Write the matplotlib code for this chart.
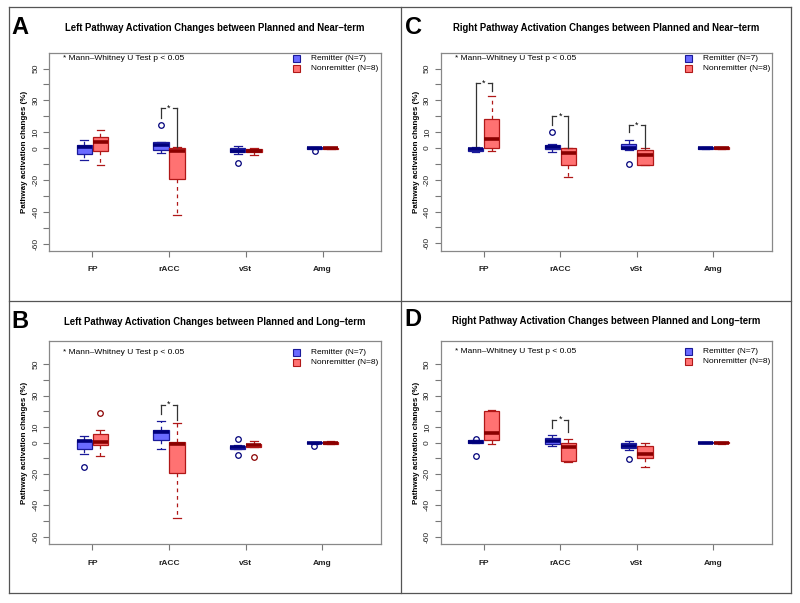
import matplotlib
matplotlib.use("Agg")
import matplotlib.pyplot as plt
from matplotlib.lines import Line2D
from matplotlib.patches import Rectangle

plt.rcParams['font.family'] = ['Liberation Sans', 'DejaVu Sans']

W, H = 800, 603

categories = ["FP", "rACC", "vSt", "Amg"]
legend_labels = ["Remitter (N=7)", "Nonremitter (N=8)"]
note_text = "* Mann\u2013Whitney U Test p < 0.05"
y_ticks = [-60, -50, -40, -30, -20, -10, 0, 10, 20, 30, 40, 50]
y_tick_labels = ["-60", "", "-40", "", "-20", "", "0", "10", "", "30", "", "50"]

titles = {
    "A": "Left Pathway Activation Changes between Planned and Near\u2013term",
    "B": "Left Pathway Activation Changes between Planned and Long\u2013term",
    "C": "Right Pathway Activation Changes between Planned and Near\u2013term",
    "D": "Right Pathway Activation Changes between Planned and Long\u2013term",
}

# five-number summaries per category: [whisker low, q1, median, q3, whisker high]
A_remitter = [[-7.4, -3.4, 0.8, 2.1, 5.1], [-3.0, -0.9, 2.1, 3.6, 3.6],
              [-3.4, -2.7, -1.7, -0.2, 1.5], [-0.6, -0.4, 0.0, 0.5, 0.8]]
A_nonremitter = [[-10.8, -1.9, 3.6, 7.2, 11.6], [-42.2, -19.1, -1.7, 0.4, 0.9],
                 [-4.4, -2.7, -1.5, -0.4, 0.0], [-0.5, -0.3, 0.1, 0.4, 0.6]]
A_remitter_out = [[], [14.6], [-9.1], [-1.8]]
A_nonremitter_out = [[], [], [], []]

B_remitter = [[-7.5, -3.8, 1.0, 1.9, 4.5], [-3.8, 1.9, 6.6, 7.8, 13.8],
              [-4.1, -4.1, -3.0, -1.9, -1.5], [-0.6, -0.5, 0.0, 0.4, 0.6]]
B_nonremitter = [[-8.7, -1.3, 0.6, 5.3, 8.3], [-48.1, -19.1, -0.6, 0.6, 12.3],
                 [-2.8, -2.8, -1.3, -0.9, 1.0], [-0.9, -0.6, 0.0, 0.6, 1.3]]
B_remitter_out = [[-15.6], [], [2.1, -7.7], [-1.9]]
B_nonremitter_out = [[19.1], [], [-8.9], []]

C_remitter = [[-2.5, -1.8, -0.6, 0.3, 0.5], [-2.5, -0.6, 0.4, 1.7, 2.8],
              [-1.0, -0.9, 0.0, 2.3, 5.3], [-0.6, -0.4, 0.0, 0.4, 0.6]]
C_nonremitter = [[-2.1, -0.2, 5.9, 18.0, 32.7], [-18.4, -10.8, -3.0, -0.2, 0.0],
                 [-10.6, -10.6, -4.2, -1.1, 0.0], [-0.8, -0.6, -0.1, 0.5, 0.8]]
C_remitter_out = [[], [10.0], [-10.2], []]
C_nonremitter_out = [[], [], [], []]

D_remitter = [[-0.2, -0.2, 0.6, 1.5, 1.5], [-2.2, -0.6, 1.0, 2.9, 4.7],
              [-4.9, -3.2, -2.0, -0.2, 0.8], [-0.5, -0.4, 0.0, 0.4, 0.6]]
D_nonremitter = [[-0.9, 1.5, 6.1, 20.2, 20.8], [-12.6, -11.5, -2.8, -0.4, 2.1],
                 [-15.6, -10.0, -7.0, -2.1, 0.0], [-0.6, -0.4, 0.0, 0.4, 0.7]]
D_remitter_out = [[2.5, -8.5], [], [-10.5], []]
D_nonremitter_out = [[], [], [], []]

# significance brackets: (category index, top, left leg end, right leg end)
A_sig = [(1, 25.0, 19.0, 1.0)]
B_sig = [(1, 24.2, 18.0, 14.2)]
C_sig = [(0, 41.0, 0.5, 36.0), (1, 20.3, 14.8, 0.0), (2, 14.2, 10.0, 0.0)]
D_sig = [(1, 14.7, 9.3, 6.8)]

panels = {
    "A": (A_remitter, A_nonremitter, A_remitter_out, A_nonremitter_out, A_sig),
    "B": (B_remitter, B_nonremitter, B_remitter_out, B_nonremitter_out, B_sig),
    "C": (C_remitter, C_nonremitter, C_remitter_out, C_nonremitter_out, C_sig),
    "D": (D_remitter, D_nonremitter, D_remitter_out, D_nonremitter_out, D_sig),
}

# layout in pixels: (left, right, top, bottom), ylim, (x offset, y offset) of panel
layout = {
    "A": ((49.3, 381.0, 53.3, 251.0), (-64.6, 59.6), (0, 0)),
    "C": ((440.7, 771.7, 53.3, 250.7), (-64.6, 59.6), (394, 0)),
    "B": ((49.3, 380.7, 341.0, 544.3), (-64.8, 64.8), (0, 294)),
    "D": ((440.7, 771.7, 341.0, 544.3), (-64.8, 64.8), (393, 293)),
}

rem_fill, rem_edge, rem_med = "#6a6aff", "#1a1a9a", "#00007a"
non_fill, non_edge, non_med = "#ff7272", "#b01818", "#8a0000"

fig = plt.figure(figsize=(W / 100, H / 100), dpi=100)
fig.patch.set_facecolor("white")

def fx(x):
    return x / W

def fy(y):
    return 1 - y / H

# panel frame lines
frame_col = "#555555"
for (x0, y0, x1, y1) in [(9, 7, 791, 7), (9, 593, 791, 593), (9, 7, 9, 593),
                         (791, 7, 791, 593), (400.7, 7, 400.7, 593), (9, 301.3, 791, 301.3)]:
    fig.add_artist(Line2D([fx(x0), fx(x1)], [fy(y0), fy(y1)], color=frame_col, lw=0.9))

off = 0.105
bw = 0.2

def make_stats(summ, outs):
    res = []
    for s, o in zip(summ, outs):
        res.append(dict(whislo=s[0], q1=s[1], med=s[2], q3=s[3], whishi=s[4], fliers=o))
    return res

for key, ((l, r, t, b), ylim, (dx, dy)) in layout.items():
    rem, non, rem_o, non_o, sig = panels[key]
    ax = fig.add_axes([fx(l), fy(b), (r - l) / W, (b - t) / H])
    pos = list(range(1, len(categories) + 1))
    for summ, outs, sign, fc, ec, mc in [(rem, rem_o, -1, rem_fill, rem_edge, rem_med),
                                         (non, non_o, 1, non_fill, non_edge, non_med)]:
        ax.bxp(make_stats(summ, outs), positions=[p + sign * off for p in pos],
               widths=bw, patch_artist=True, showfliers=True, capwidths=bw * 0.5,
               boxprops=dict(facecolor=fc, edgecolor=ec, lw=0.9),
               medianprops=dict(color=mc, lw=2.6, solid_capstyle="butt"),
               whiskerprops=dict(color=ec, lw=0.9, linestyle=(0, (3, 3))),
               capprops=dict(color=ec, lw=0.9),
               flierprops=dict(marker="o", markerfacecolor="none", markeredgecolor=mc,
                               markersize=4, markeredgewidth=0.9))
    for (ci, top, lend, rend) in sig:
        xl = pos[ci] - off
        xr = pos[ci] + off
        wdt = xr - xl
        kw = dict(color="#333333", lw=0.9)
        ax.plot([xl, xl], [lend, top], **kw)
        ax.plot([xr, xr], [rend, top], **kw)
        ax.plot([xl, xl + 0.25 * wdt], [top, top], **kw)
        ax.plot([xr - 0.25 * wdt, xr], [top, top], **kw)
        ax.text((xl + xr) / 2, top, "*", ha="center", va="center", fontsize=6.5)
    ax.set_xlim(0.44, 4.76)
    ax.set_ylim(*ylim)
    ax.set_xticks(pos)
    ax.set_xticklabels(categories, fontweight="bold", fontsize=6)
    ax.set_yticks(y_ticks)
    ax.set_yticklabels(y_tick_labels, fontsize=6, rotation=90, va="center")
    for sp in ax.spines.values():
        sp.set_color("#888888")
        sp.set_linewidth(0.9)
    ax.tick_params(axis="both", colors="#777777", labelcolor="#222222", length=4, width=0.8)
    ax.tick_params(axis="x", pad=7)
    ax.tick_params(axis="y", pad=3)
    ax.set_ylabel("Pathway activation changes (%)", fontsize=5.8, fontweight="bold",
                  labelpad=3)
    fig.text(fx((l + r) / 2), fy(27.7 + dy), titles[key], ha="center", va="center",
             fontsize=6.85, fontweight="bold")
    fig.text(fx(11 + dx), fy(27 + dy), key, ha="left", va="center",
             fontsize=17, fontweight="bold")
    fig.text(fx(l + 14), fy(58.5 + dy), note_text, ha="left", va="center", fontsize=6)
    # legend
    for i, (lab, fc, ec) in enumerate(zip(legend_labels, [rem_fill, non_fill], [rem_edge, non_edge])):
        yy = 58.3 + i * 10 + dy
        fig.add_artist(Rectangle((fx(l + 244), fy(yy + 3.5)), 7 / W, 7 / H,
                                 facecolor=fc, edgecolor=ec, lw=0.8))
        fig.text(fx(l + 262), fy(yy), lab, ha="left", va="center", fontsize=6)

fig.savefig("out.png", dpi=100, facecolor="white")
